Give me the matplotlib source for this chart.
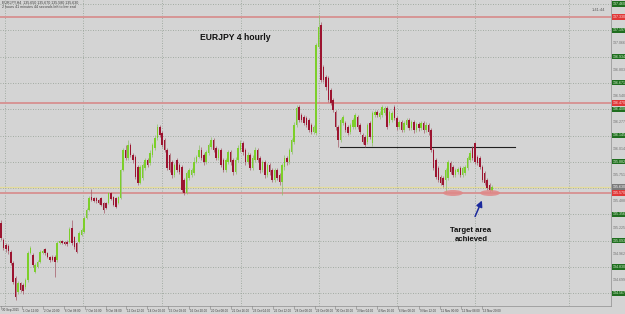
import matplotlib
matplotlib.use("Agg")
import matplotlib.pyplot as plt
from matplotlib.patches import Ellipse
from matplotlib.transforms import blended_transform_factory

# ---------------- data (EURJPY, H4 candles) ----------------
opens = [
 135.27,135.10,135.05,135.04,134.98,134.87,134.72,134.58,134.67,134.65,
 134.63,134.70,134.97,134.95,134.78,134.83,134.88,134.97,135.01,134.97,
 134.93,134.93,134.93,134.90,135.07,135.09,135.08,135.08,135.08,135.22,
 135.13,135.07,135.08,135.15,135.18,135.32,135.40,135.53,135.52,135.52,
 135.50,135.52,135.47,135.47,135.47,135.57,135.53,135.52,135.47,135.52,
 135.80,136.00,135.92,136.05,135.95,135.93,135.83,135.67,135.72,135.82,
 135.90,135.87,135.95,136.02,136.12,136.23,136.17,136.10,136.00,135.95,
 135.88,135.75,135.90,135.85,135.83,135.70,135.57,135.72,135.75,135.77,
 135.88,135.93,136.00,135.95,135.88,135.97,136.03,136.10,136.02,135.92,
 136.00,135.90,135.80,135.88,135.98,135.90,135.78,135.90,136.00,136.07,
 136.00,135.88,135.95,135.82,135.90,136.00,135.92,135.80,135.88,135.75,
 135.85,135.80,135.70,135.80,135.75,135.68,135.83,135.92,135.88,135.98,
 136.08,136.25,136.43,136.35,136.33,136.32,136.30,136.25,136.18,136.17,
 137.03,137.25,136.83,136.73,136.72,136.60,136.50,136.38,136.23,136.10,
 136.27,136.27,136.23,136.18,136.23,136.23,136.33,136.25,136.15,136.13,
 136.08,136.27,136.07,136.35,136.38,136.33,136.35,136.37,136.42,136.27,
 136.30,136.43,136.32,136.23,136.28,136.20,136.25,136.30,136.22,136.28,
 136.20,136.26,136.22,136.27,136.20,136.25,136.20,136.00,135.90,135.82,
 135.73,135.72,135.70,135.72,135.87,135.83,135.75,135.78,135.82,135.75,
 135.77,135.82,135.90,136.02,136.07,135.93,135.92,135.83,135.77,135.70,
 135.65,135.59]
highs = [
 135.30,135.12,135.07,135.06,135.00,134.89,134.74,134.69,134.68,134.67,
 134.72,134.99,135.04,134.97,134.87,134.90,135.00,135.01,135.02,134.98,
 134.94,134.95,134.95,135.09,135.10,135.10,135.09,135.10,135.23,135.30,
 135.14,135.08,135.19,135.22,135.34,135.42,135.54,135.61,135.53,135.53,
 135.51,135.53,135.48,135.48,135.58,135.58,135.54,135.53,135.54,135.81,
 136.02,136.05,136.10,136.07,135.97,135.95,135.85,135.85,135.87,135.92,
 135.92,136.00,136.07,136.15,136.26,136.25,136.19,136.12,136.02,135.97,
 135.90,135.87,135.92,135.87,135.85,135.72,135.79,135.82,135.82,135.93,
 135.95,136.05,136.03,135.97,136.00,136.07,136.13,136.12,136.04,136.02,
 136.02,135.92,135.92,136.00,136.00,135.92,135.93,136.05,136.10,136.09,
 136.02,135.98,135.97,135.95,136.03,136.02,135.94,135.90,135.90,135.87,
 135.87,135.82,135.82,135.82,135.77,135.87,135.95,135.94,136.02,136.12,
 136.28,136.45,136.45,136.37,136.35,136.34,136.32,136.27,136.25,137.07,
 137.35,137.28,136.85,136.75,136.74,136.62,136.52,136.40,136.25,136.32,
 136.35,136.29,136.25,136.27,136.32,136.37,136.35,136.27,136.17,136.15,
 136.27,136.29,136.39,136.40,136.40,136.39,136.45,136.44,136.44,136.40,
 136.39,136.45,136.34,136.30,136.30,136.29,136.32,136.32,136.30,136.30,
 136.28,136.28,136.29,136.29,136.28,136.27,136.22,136.02,135.92,135.84,
 135.75,135.74,135.82,135.90,135.89,135.85,135.82,135.83,135.84,135.84,
 135.85,135.94,136.00,136.04,136.08,135.95,135.94,135.85,135.79,135.72,
 135.67,135.65]
lows = [
 135.10,135.00,134.98,134.96,134.85,134.66,134.50,134.56,134.58,134.56,
 134.61,134.68,134.96,134.83,134.77,134.82,134.87,134.96,134.95,134.92,
 134.88,134.89,134.73,134.88,135.06,135.06,135.05,135.04,135.07,135.05,
 135.01,134.97,135.07,135.14,135.17,135.31,135.39,135.49,135.48,135.47,
 135.46,135.44,135.37,135.41,135.46,135.50,135.44,135.42,135.46,135.51,
 135.79,135.90,135.90,135.93,135.87,135.71,135.65,135.66,135.70,135.80,
 135.83,135.85,135.93,136.00,136.10,136.13,136.03,135.98,135.80,135.78,
 135.72,135.73,135.78,135.76,135.58,135.55,135.56,135.70,135.73,135.75,
 135.87,135.92,135.90,135.85,135.86,135.95,136.01,135.98,135.90,135.90,
 135.83,135.78,135.78,135.86,135.85,135.75,135.76,135.88,135.98,135.95,
 135.85,135.86,135.80,135.80,135.88,135.88,135.77,135.78,135.72,135.73,
 135.75,135.68,135.68,135.70,135.65,135.55,135.80,135.85,135.86,135.96,
 136.06,136.23,136.28,136.28,136.25,136.23,136.18,136.16,136.16,136.15,
 137.02,136.68,136.68,136.60,136.48,136.45,136.38,136.20,136.03,136.08,
 136.25,136.18,136.15,136.16,136.21,136.21,136.21,136.16,136.06,136.03,
 136.06,136.11,136.04,136.33,136.33,136.31,136.33,136.35,136.21,136.25,
 136.28,136.30,136.20,136.21,136.18,136.18,136.23,136.20,136.20,136.17,
 136.18,136.19,136.20,136.17,136.18,136.15,135.98,135.80,135.71,135.68,
 135.65,135.63,135.57,135.70,135.76,135.73,135.73,135.76,135.73,135.73,
 135.75,135.80,135.88,135.90,135.86,135.85,135.81,135.68,135.65,135.60,
 135.58,135.58]
closes = [
 135.12,135.02,135.01,134.99,134.87,134.68,134.53,134.67,134.60,134.59,
 134.70,134.97,135.02,134.85,134.85,134.88,134.98,134.99,134.97,134.93,
 134.90,134.90,134.88,135.07,135.09,135.07,135.06,135.06,135.21,135.07,
 135.03,134.98,135.17,135.20,135.32,135.40,135.52,135.50,135.49,135.49,
 135.47,135.45,135.40,135.42,135.57,135.51,135.45,135.43,135.53,135.80,
 136.00,135.92,136.05,135.95,135.90,135.73,135.67,135.83,135.85,135.90,
 135.85,135.97,136.05,136.12,136.23,136.15,136.05,136.00,135.82,135.80,
 135.75,135.85,135.80,135.78,135.60,135.57,135.77,135.80,135.80,135.88,
 135.93,136.00,135.92,135.88,135.98,136.05,136.10,136.00,135.92,136.00,
 135.85,135.80,135.90,135.98,135.88,135.78,135.90,136.02,136.07,135.98,
 135.88,135.95,135.82,135.92,136.00,135.90,135.80,135.88,135.75,135.85,
 135.78,135.70,135.80,135.72,135.68,135.85,135.92,135.88,136.00,136.10,
 136.25,136.42,136.30,136.30,136.27,136.25,136.20,136.18,136.23,137.05,
 137.23,136.70,136.70,136.63,136.50,136.47,136.40,136.23,136.10,136.30,
 136.33,136.20,136.17,136.25,136.30,136.35,136.23,136.18,136.08,136.05,
 136.25,136.13,136.37,136.38,136.35,136.37,136.43,136.42,136.23,136.38,
 136.37,136.32,136.23,136.28,136.20,136.27,136.30,136.22,136.28,136.20,
 136.26,136.22,136.27,136.20,136.25,136.18,136.00,135.82,135.73,135.70,
 135.67,135.65,135.80,135.88,135.78,135.75,135.80,135.81,135.75,135.82,
 135.83,135.92,135.97,135.92,135.88,135.87,135.83,135.70,135.67,135.62,
 135.60,135.63]

# horizontal levels drawn on the chart
resistance_levels = [137.33, 136.47]   # red lines
support_level = 135.57                 # red line (target area)
bid_level = 135.63                     # yellow bid line
neckline_level = 136.03                # black line
grid_labels = ["137.460", "137.197", "136.934", "136.671", "136.408", "136.145",
               "135.882", "135.619", "135.356", "135.093", "134.830", "134.567"]
mid_labels = ["137.329", "137.066", "136.803", "136.540", "136.277", "136.014",
              "135.751", "135.488", "135.225", "134.962", "134.699", "134.436"]
date_labels = ["30 Sep 2015", "1 Oct 12:00", "2 Oct 20:00", "6 Oct 08:00",
               "7 Oct 16:00", "9 Oct 04:00", "12 Oct 12:00", "14 Oct 00:00",
               "15 Oct 08:00", "16 Oct 20:00", "20 Oct 08:00", "21 Oct 16:00",
               "23 Oct 04:00", "26 Oct 12:00", "28 Oct 00:00", "29 Oct 08:00",
               "30 Oct 20:00", "3 Nov 04:00", "4 Nov 16:00", "6 Nov 00:00",
               "9 Nov 12:00", "11 Nov 00:00", "12 Nov 08:00", "13 Nov 20:00"]
title_text = "EURJPY 4 hourly"
note_text = "Target area\nachieved"
header1 = "EURJPY,H4  135.650 135.670 135.580 135.630"
header2 = "2 hours 41 minutes 44 seconds left to bar end"
timer_text = "1:41:44"

# ---------------- layout ----------------
BG = "#d4d4d4"
GREEN = "#7ccf2a"
RED = "#9c1430"
GRIDC = "#939e93"
FONT = ["Liberation Sans", "DejaVu Sans"]
W, H = 625, 314
PLOT_W, PLOT_H = 611, 306
BAR = 2.443  # px per bar


def px2i(px):
    return (px - 1) / BAR


fig = plt.figure(figsize=(W / 100, H / 100), dpi=100, facecolor=BG)
ax = fig.add_axes([0, (H - PLOT_H) / H, PLOT_W / W, PLOT_H / H])
ax.set_facecolor(BG)
ax.set_xlim(px2i(0), px2i(PLOT_W))
ymax = 137.50
ymin = ymax - PLOT_H / 100.0
ax.set_ylim(ymin, ymax)
ax.set_xticks([])
ax.set_yticks([])
for s in ["top", "left"]:
    ax.spines[s].set_visible(False)
for s in ["right", "bottom"]:
    ax.spines[s].set_color("#9a9a9a")
    ax.spines[s].set_linewidth(0.6)

# grid
grid_levels = [ymax - (4 + 26.3 * k) / 100.0 for k in range(len(grid_labels))]
for g in grid_levels:
    ax.axhline(g, color=GRIDC, lw=0.6, ls=(0, (1, 2)), zorder=1)
for vx in [5, 83, 162, 241, 319, 397, 475, 569]:
    ax.axvline(px2i(vx), color=GRIDC, lw=0.6, ls=(0, (1, 2)), zorder=1)

# levels
for lv in resistance_levels + [support_level]:
    ax.axhline(lv, color="#dba0a0", lw=1.3, zorder=2)
    ax.axhline(lv, color="#cc6a6a", lw=0.35, zorder=2)
ax.axhline(bid_level, color="#e4dc9c", lw=0.9, zorder=2)
ax.plot([px2i(340), px2i(515)], [neckline_level] * 2, color="#202020", lw=0.8, zorder=3)

# candles
n = min(len(opens), len(highs), len(lows), len(closes))
for i in range(n):
    o, h, l, c = opens[i], highs[i], lows[i], closes[i]
    up = c >= o
    col = GREEN if up else RED
    wcol = "#8fbf6a" if up else "#a45a68"
    ax.plot([i, i], [l, h], color=wcol, lw=0.5, zorder=4, solid_capstyle="butt")
    bot = min(o, c)
    ht = max(abs(c - o), 0.012)
    ax.bar(i, ht, bottom=bot, width=0.62, color=col, linewidth=0, zorder=5)

# annotations
ax.text(235 / PLOT_W, 1 - 38 / PLOT_H, title_text, transform=ax.transAxes,
        ha="center", va="center", fontsize=6.2, fontweight="bold",
        family=FONT, color="#111111", zorder=6)
ax.text(471 / PLOT_W, 1 - 235 / PLOT_H, note_text, transform=ax.transAxes,
        ha="center", va="center", fontsize=5.6, fontweight="bold",
        family=FONT, color="#111111", linespacing=1.25, zorder=6)
for cx in [453, 490]:
    ax.add_patch(Ellipse((cx / PLOT_W, 1 - 193 / PLOT_H), 20 / PLOT_W, 6 / PLOT_H,
                         transform=ax.transAxes, facecolor="#e08888",
                         edgecolor="none", alpha=0.85, zorder=6))
ax.annotate("", xy=(483 / PLOT_W, 1 - 198 / PLOT_H), xytext=(474 / PLOT_W, 1 - 219 / PLOT_H),
            xycoords="axes fraction", textcoords="axes fraction",
            arrowprops=dict(arrowstyle="-|>,head_length=0.35,head_width=0.18",
                            color="#1c2a9c", lw=1.1), zorder=7)

# header texts
fig.text(2 / W, 1 - 3 / H, header1, fontsize=2.6, color="#404040", family=FONT, va="center")
fig.text(2 / W, 1 - 7.5 / H, header2, fontsize=2.6, color="#404040", family=FONT, va="center")
fig.text(592 / W, 1 - 10 / H, timer_text, fontsize=3, color="#606060", family=FONT, va="center")

# right price axis labels
tr = blended_transform_factory(ax.transAxes, ax.transData)
xl = (PLOT_W + 1.5) / PLOT_W
for g, lab in zip(grid_levels, grid_labels):
    ax.text(xl, g, lab, transform=tr, fontsize=2.6, color="#d8f0d0", family=FONT,
            va="center", ha="left", clip_on=False,
            bbox=dict(boxstyle="square,pad=0.15", fc="#1f6e1f", ec="none"))
mid_levels = [g - 0.1315 for g in grid_levels]
for g, lab in zip(mid_levels, mid_labels):
    if ymin < g < ymax:
        ax.text(xl, g, lab, transform=tr, fontsize=2.6, color="#707070", family=FONT,
                va="center", ha="left", clip_on=False)
for lv in resistance_levels + [support_level]:
    ax.text(xl, lv, "%.3f" % lv, transform=tr, fontsize=2.6, color="#ffe0e0", family=FONT,
            va="center", ha="left", clip_on=False,
            bbox=dict(boxstyle="square,pad=0.15", fc="#e03838", ec="none"))
ax.text(xl, bid_level, "%.3f" % bid_level, transform=tr, fontsize=2.6, color="#ffffff",
        family=FONT, va="center", ha="left", clip_on=False,
        bbox=dict(boxstyle="square,pad=0.15", fc="#7a7a7a", ec="none"))

# bottom time labels
for k, lab in enumerate(date_labels):
    xp = 1 + 20.9 * k
    fig.text((xp + 1) / W, 1 - 310.5 / H, lab, fontsize=2.2, color="#404040",
             family=FONT, va="center", ha="left")
    fig.add_artist(plt.Line2D([xp / W, xp / W], [1 - 306 / H, 1 - 309 / H],
                              color="#808080", lw=0.4))

fig.savefig("out.png", dpi=100, facecolor=BG)
